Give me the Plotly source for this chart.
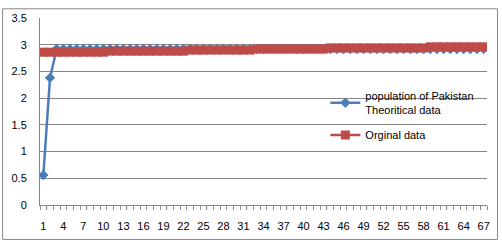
import plotly.graph_objects as go

categories = list(range(1, 68))
theoretical = [0.56, 2.38] + [2.92] * 65
original = [2.86] * 10 + [2.88] * 12 + [2.90] * 10 + [2.92] * 11 + [2.94] * 15 + [2.96] * 9
tick_labels = list(range(1, 68, 3))
y_ticks = [0, 0.5, 1, 1.5, 2, 2.5, 3, 3.5]

BLUE = "#4A7EBB"
RED = "#BE4B48"
GRID = "#878787"
FONT = "Liberation Sans, Arial, sans-serif"

fig = go.Figure()
fig.add_trace(go.Scatter(
    x=categories, y=theoretical, mode="lines+markers",
    name="population of Pakistan<br>Theoritical data", legendgroup="a",
    line=dict(color=BLUE, width=2.5),
    marker=dict(symbol="diamond", size=8, color=BLUE),
))
fig.add_trace(go.Scatter(
    x=categories, y=original, mode="lines+markers",
    name="Orginal data", legendgroup="b",
    line=dict(color=RED, width=2.5),
    marker=dict(symbol="square", size=9, color=RED),
))

L, R, T, B = 40, 14, 12, 39
W, H = 502, 244
pw, ph = W - L - R, H - T - B

fig.update_layout(
    width=W, height=H,
    margin=dict(l=L, r=R, t=T, b=B),
    paper_bgcolor="white", plot_bgcolor="white",
    font=dict(family=FONT, size=11, color="black"),
    showlegend=True,
    legend=dict(
        x=(326 - L) / pw, y=(205 - 78) / ph, xanchor="left", yanchor="top",
        bgcolor="rgba(0,0,0,0)", font=dict(size=11, family=FONT),
        traceorder="grouped", tracegroupgap=7,
    ),
    xaxis=dict(
        range=[0.5, 67.5], tickmode="array", tickvals=tick_labels,
        ticktext=[str(v) for v in tick_labels],
        ticks="", showgrid=False, zeroline=False,
        showline=True, linecolor=GRID, linewidth=1,
        ticklabelstandoff=11,
        minor=dict(ticks="outside", tick0=0.5, dtick=1, ticklen=4,
                   tickcolor=GRID, showgrid=False),
        tickfont=dict(size=11),
    ),
    yaxis=dict(
        range=[0, 3.5], tickmode="array", tickvals=y_ticks,
        ticktext=[f"{v:g}" for v in y_ticks],
        showgrid=True, gridcolor=GRID, gridwidth=1,
        zeroline=False, showline=True, linecolor=GRID, linewidth=1,
        ticks="", ticklabelstandoff=10, tickfont=dict(size=11),
    ),
)

# outer chart border
fig.add_shape(
    type="rect", xref="paper", yref="paper",
    x0=(2.5 - L) / pw, x1=(498.5 - L) / pw,
    y0=(205 - 240.5) / ph, y1=(205 - 2.5) / ph,
    line=dict(color=GRID, width=1), fillcolor="rgba(0,0,0,0)", layer="below",
)

fig.write_html("out.html")
